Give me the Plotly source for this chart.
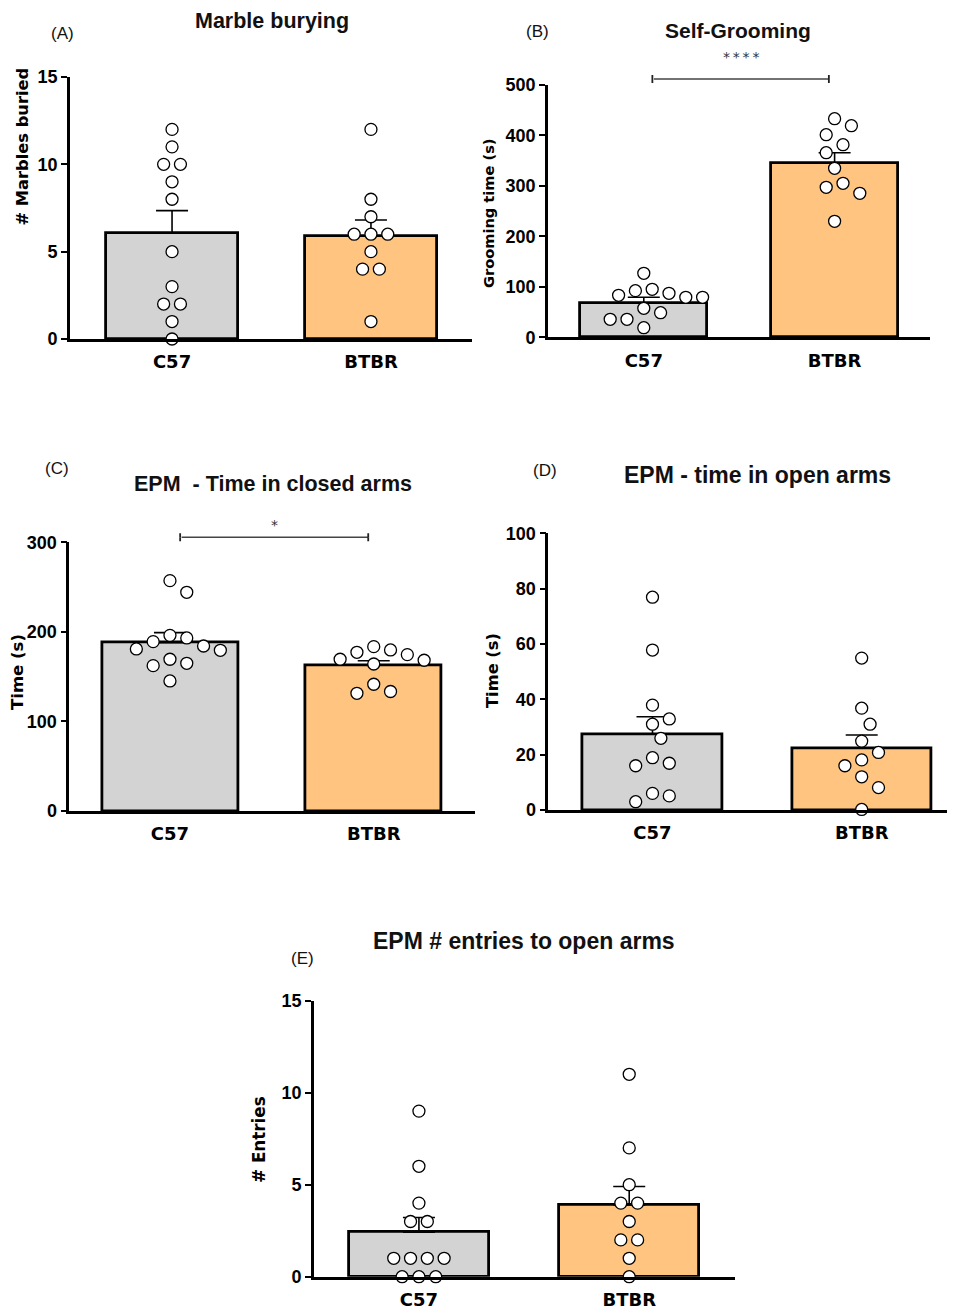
import plotly.graph_objects as go

W, H = 955, 1309
OFF = 8  # page body margin offset (px)
categories = ["C57", "BTBR"]

# ---- data ----
# (A) Marble burying
a_c57 = [12, 11, 10, 10, 9, 8, 5, 3, 2, 2, 1, 0]
a_btbr = [12, 8, 7, 6, 6, 6, 5, 4, 4, 1]
a_mean = [6.08, 5.9]
a_sem = [1.27, 0.91]

# (B) Self-grooming
b_c57 = [126.8, 95.1, 92.4, 87.2, 83.2, 79.3, 79.3, 57.5, 48.8, 35.7, 35.7, 19.0]
b_btbr = [433.2, 419.3, 401.5, 381.7, 365.8, 334.9, 305.2, 297.3, 285.4, 229.9]
b_mean = [68.6, 346.0]
b_sem = [10.7, 19.8]

# (C) EPM - time in closed arms
c_c57 = [257.2, 244.2, 196.1, 193.2, 189.1, 184.2, 180.9, 179.4, 169.4, 164.9, 162.3, 145.2]
c_btbr = [183.5, 179.8, 177.2, 174.6, 169.4, 168.3, 164.1, 141.5, 133.4, 131.4]
c_mean = [187.9, 163.0]
c_sem = [11.2, 4.8]

# (D) EPM - time in open arms
d_c57 = [76.9, 57.8, 37.9, 32.9, 31.0, 25.9, 18.9, 16.9, 16.0, 6.0, 5.1, 3.0]
d_btbr = [54.9, 36.8, 31.0, 24.9, 20.8, 18.1, 16.0, 12.0, 8.1, 0.2]
d_mean = [27.4, 22.3]
d_sem = [6.3, 4.8]

# (E) EPM # entries to open arms
e_c57 = [9, 6, 4, 3, 3, 1, 1, 1, 1, 0, 0, 0]
e_btbr = [11, 7, 5, 4, 4, 3, 2, 2, 1, 0]
e_mean = [2.42, 3.9]
e_sem = [0.8, 1.0]

titles = ["Marble burying", "Self-Grooming", "EPM  - Time in closed arms",
          "EPM - time in open arms", "EPM # entries to open arms"]
letters = ["(A)", "(B)", "(C)", "(D)", "(E)"]
ytitles = ["# Marbles buried", "Grooming time (s)", "Time (s)", "Time (s)", "# Entries"]
yranges = [[0, 15], [0, 500], [0, 300], [0, 100], [0, 15]]
dticks = [5, 100, 100, 20, 5]

# significance brackets
sig_panels = [1, 2]
sig_x0 = [0.045, 0.05]
sig_x1 = [0.97, 0.973]
sig_y = [512, 305.6]
sig_labels = ["*\u2009*\u2009*\u2009*", "*"]

# ---- layout geometry (pixels in the final picture) ----
px_x = [(70, 472), (548, 930), (69.3, 475), (548.3, 955), (314, 735)]
px_y = [(77, 339), (85, 337.3), (542.3, 811), (533.3, 810), (1000.7, 1276.7)]
xranges = [[-0.513, 1.508], [-0.502, 1.5], [-0.494, 1.497], [-0.498, 1.446], [-0.499, 1.503]]
title_pos = [(271.5, 21), (738, 30), (272.5, 484), (757.5, 475), (524, 941)]
title_size = [21.5, 21, 21.5, 23, 23]
letter_pos = [(62, 33), (537, 31), (57, 468), (545, 471), (302, 958)]
ytitle_pos = [(21.5, 147), (488, 213), (17, 672), (493, 671), (259, 1140)]
ytitle_size = [16.3, 14.6, 16.5, 16.3, 16.8]
sig_shift = [32, 22]

GRAY = "#D3D3D3"
ORANGE = "#FFC47F"

panels = [
    (a_c57, a_btbr, a_mean, a_sem),
    (b_c57, b_btbr, b_mean, b_sem),
    (c_c57, c_btbr, c_mean, c_sem),
    (d_c57, d_btbr, d_mean, d_sem),
    (e_c57, e_btbr, e_mean, e_sem),
]


def fx(px):
    return (px - OFF) / W


def fy(py):
    return 1 - (py - OFF) / H


def swarm(vals, ppu_y, ppu_x, D=16.8, step=8.4):
    """Beeswarm layout: returns x offsets (data units)."""
    n = len(vals)
    offs = [0.0] * n
    placed = []
    order = sorted(range(n), key=lambda i: -vals[i])
    groups = []
    for idx in order:
        if groups and vals[groups[-1][0]] == vals[idx]:
            groups[-1].append(idx)
        else:
            groups.append([idx])
    for g in groups:
        y = vals[g[0]] * ppu_y
        m = len(g)
        base = [(k - (m - 1) / 2) * D for k in range(m)]
        chosen = 0
        for s in [0, 1, -1, 2, -2, 3, -3, 4, -4, 5, -5, 6, -6]:
            ok = True
            for b in base:
                x = b + s * step
                for (qx, qy) in placed:
                    if (x - qx) ** 2 + (y - qy) ** 2 < D * D * 0.95:
                        ok = False
                        break
                if not ok:
                    break
            if ok:
                chosen = s * step
                break
        for b, idx in zip(base, g):
            x = b + chosen
            offs[idx] = x / ppu_x
            placed.append((x, y))
    return offs


fig = go.Figure()
annotations = []
layout = {}

for i, (g1, g2, means, sems) in enumerate(panels):
    n = "" if i == 0 else str(i + 1)
    xa, ya = "x" + n, "y" + n
    x0p, x1p = px_x[i]
    y0p, y1p = px_y[i]
    xd = [fx(x0p), fx(x1p)]
    yd = [fy(y1p), fy(y0p)]
    ppu_x = (x1p - x0p) / (xranges[i][1] - xranges[i][0])
    ppu_y = (y1p - y0p) / (yranges[i][1] - yranges[i][0])

    fig.add_trace(go.Bar(
        x=[0, 1], y=means, width=0.667,
        marker=dict(color=[GRAY, ORANGE], line=dict(color="black", width=2.8)),
        error_y=dict(type="data", array=sems, arrayminus=[0, 0], symmetric=False,
                     color="black", thickness=1.6, width=16),
        xaxis=xa, yaxis=ya, showlegend=False, hoverinfo="skip",
    ))
    for gi, vals in enumerate([g1, g2]):
        offs = swarm(vals, ppu_y, ppu_x)
        fig.add_trace(go.Scatter(
            x=[gi + o for o in offs], y=vals, mode="markers",
            marker=dict(symbol="circle", size=12, color="white",
                        line=dict(color="black", width=1.3)),
            cliponaxis=False, xaxis=xa, yaxis=ya, showlegend=False,
        ))

    layout["xaxis" + n] = dict(
        domain=xd, range=xranges[i], anchor=ya, tickvals=[0, 1], ticktext=categories,
        showline=True, linecolor="black", linewidth=2.6, ticks="", showgrid=False,
        zeroline=False, ticklabelstandoff=5,
        tickfont=dict(family="DejaVu Sans", size=18, color="black", weight="bold"),
    )
    layout["yaxis" + n] = dict(
        domain=yd, range=yranges[i], dtick=dticks[i], anchor=xa,
        showline=True, linecolor="black", linewidth=2.6, ticks="outside", ticklen=6,
        tickwidth=2, tickcolor="black", showgrid=False, zeroline=False,
        ticklabelstandoff=0,
        tickfont=dict(family="Liberation Sans", size=18, color="black", weight="bold"),
    )

    tx, ty = title_pos[i]
    annotations.append(dict(xref="paper", yref="paper", x=fx(tx), y=fy(ty),
                            text=titles[i], showarrow=False, xanchor="center", yanchor="middle",
                            font=dict(family="Liberation Sans", size=title_size[i], color="#111",
                                      weight="bold")))
    lx, ly = letter_pos[i]
    annotations.append(dict(xref="paper", yref="paper", x=fx(lx), y=fy(ly),
                            text=letters[i], showarrow=False, xanchor="center", yanchor="middle",
                            font=dict(family="Liberation Sans", size=17, color="#111")))
    yx, yy = ytitle_pos[i]
    annotations.append(dict(xref="paper", yref="paper", x=fx(yx), y=fy(yy),
                            text=ytitles[i], showarrow=False, textangle=-90,
                            xanchor="center", yanchor="middle",
                            font=dict(family="DejaVu Sans", size=ytitle_size[i], color="black",
                                      weight="bold")))

for k, pi in enumerate(sig_panels):
    n = str(pi + 1)
    xa, ya = "x" + n, "y" + n + " domain"
    yr = yranges[pi]
    yfrac = (sig_y[k] - yr[0]) / (yr[1] - yr[0])
    x0, x1 = sig_x0[k], sig_x1[k]
    annotations.append(dict(xref=xa, yref=ya, axref=xa, ayref="pixel", x=x1, y=yfrac, ax=x0, ay=0,
                            text="", showarrow=True, arrowhead=0, arrowwidth=1.5,
                            arrowcolor="#444", standoff=0, startstandoff=0))
    for xx in (x0, x1):
        for d in (-5.5, 5.5):
            annotations.append(dict(xref=xa, yref=ya, x=xx, y=yfrac, ax=0, ay=d, text="",
                                    showarrow=True, arrowhead=0, arrowwidth=1.8,
                                    arrowcolor="#222", standoff=0, startstandoff=0))
    annotations.append(dict(xref=xa, yref=ya, x=(x0 + x1) / 2, y=yfrac, text=sig_labels[k],
                            showarrow=False, yshift=sig_shift[k],
                            font=dict(family="DejaVu Sans", size=14, color="#333")))

fig.update_layout(
    width=W, height=H, margin=dict(l=0, r=0, t=0, b=0, autoexpand=False),
    paper_bgcolor="white", plot_bgcolor="white", bargap=0,
    annotations=annotations, **layout,
)

fig.write_html("out.html")
